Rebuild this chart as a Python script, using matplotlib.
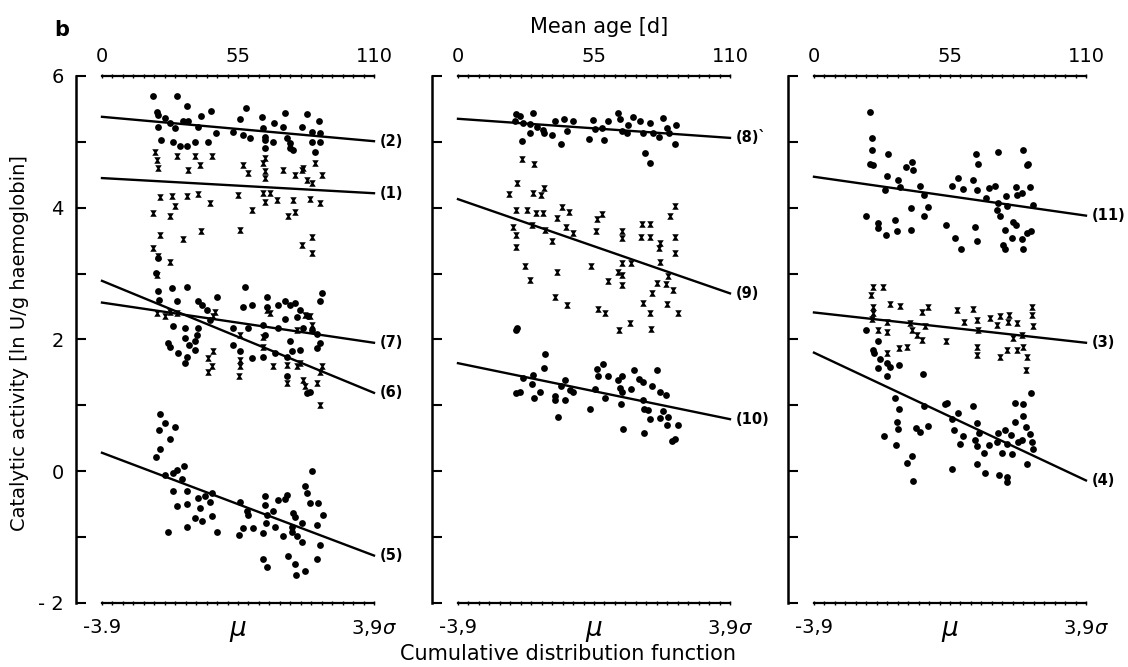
import matplotlib
matplotlib.use("Agg")
import matplotlib.pyplot as plt
import numpy as np

# points: (mean age [d], ln activity)
s2 = [(20.5, 5.70), (30.3, 5.69), (34.4, 5.55), (44.1, 5.47), (58.2, 5.52), (74.0, 5.44), (82.8, 5.42),
      (22.1, 5.46), (22.6, 5.41), (25.5, 5.36), (40.0, 5.39), (55.8, 5.35), (64.6, 5.37),
      (22.7, 5.23), (27.5, 5.29), (29.5, 5.21), (32.8, 5.31), (34.9, 5.31), (38.9, 5.23),
      (46.1, 5.13), (52.8, 5.15), (57.1, 5.10), (59.9, 5.06), (65.2, 5.21), (65.9, 5.08), (65.9, 5.03),
      (69.7, 5.28), (69.2, 5.00), (73.2, 5.23), (74.7, 5.06), (76.0, 4.98), (77.3, 4.88),
      (80.8, 5.23), (84.8, 5.15), (87.8, 5.32), (88.2, 5.13), (88.2, 5.00), (84.8, 5.00),
      (23.7, 5.03), (28.8, 5.00), (31.5, 4.93), (34.2, 4.93), (37.6, 5.00), (42.9, 5.00),
      (65.9, 4.91), (76.0, 4.91), (86.1, 4.85)]
s1 = [(21.4, 4.85), (22.1, 4.72), (22.6, 4.60), (30.2, 4.79), (37.6, 4.79), (39.6, 4.65), (44.4, 4.79),
      (34.9, 4.57), (57.1, 4.65), (59.1, 4.53), (65.2, 4.68), (65.9, 4.76), (73.2, 4.57), (78.1, 4.50),
      (81.4, 4.60), (82.8, 4.42), (84.8, 4.38), (88.8, 4.50), (86.1, 4.68), (65.9, 4.55), (65.9, 4.45),
      (80.8, 4.57), (23.5, 4.17), (28.2, 4.18), (34.2, 4.18), (38.9, 4.21), (43.7, 4.07), (55.0, 4.19),
      (65.2, 4.22), (67.9, 4.22), (65.9, 4.08), (70.6, 4.12), (77.3, 4.12), (84.1, 4.13), (88.2, 4.07),
      (20.7, 3.92), (29.5, 4.02), (27.5, 3.87), (60.5, 3.97), (75.2, 3.87), (78.1, 3.94), (23.5, 3.59),
      (32.8, 3.53), (40.1, 3.64), (55.8, 3.66), (84.8, 3.56), (80.8, 3.43), (84.8, 3.32), (20.7, 3.39),
      (22.6, 3.26), (27.5, 3.18), (22.1, 2.98)]
s7 = [(21.8, 3.01), (22.8, 3.23), (22.8, 2.73), (23.2, 2.60), (34.2, 2.80), (28.2, 2.78), (30.2, 2.58),
      (39.0, 2.58), (40.3, 2.53), (46.4, 2.64), (42.3, 2.45), (57.8, 2.80), (56.9, 2.49), (60.5, 2.53),
      (66.6, 2.65), (66.6, 2.49), (71.3, 2.53), (74.0, 2.58), (76.0, 2.53), (78.1, 2.56), (80.1, 2.45),
      (74.0, 2.31), (78.7, 2.34), (83.4, 2.35), (88.8, 2.71), (88.2, 2.59), (84.8, 2.15), (86.8, 2.09),
      (81.4, 2.17), (53.1, 2.17), (59.2, 2.17), (65.2, 2.22), (65.9, 2.07), (71.3, 2.17), (76.0, 1.97),
      (88.2, 1.94), (86.8, 1.87), (28.8, 2.20), (33.6, 2.17), (33.6, 2.02), (26.8, 1.94), (27.5, 1.89),
      (30.9, 1.79), (34.2, 1.74), (33.6, 1.64), (35.0, 1.92), (37.6, 1.97), (38.3, 2.07), (39.0, 2.17),
      (43.7, 2.30), (37.6, 1.84), (53.1, 1.92), (55.8, 1.82), (60.5, 1.72), (65.2, 1.74), (69.9, 1.79),
      (80.1, 1.84), (74.7, 1.44), (82.8, 1.19), (84.1, 1.21), (74.7, 1.74), (76.7, 1.82)]
s6 = [(25.5, 2.35), (27.5, 2.42), (30.2, 2.40), (45.0, 2.35), (43.0, 1.72), (45.0, 1.82), (44.3, 1.59),
      (43.0, 1.51), (55.8, 1.69), (55.8, 1.59), (55.5, 1.44), (55.8, 2.07), (65.2, 2.04), (65.2, 1.89),
      (69.3, 1.59), (74.7, 1.61), (74.7, 1.34), (78.7, 2.15), (78.7, 1.59), (81.4, 1.39), (82.1, 1.29),
      (86.8, 1.34), (88.2, 1.51), (88.8, 1.59), (88.2, 1.01), (82.1, 2.37), (84.1, 2.35), (84.8, 2.22),
      (66.6, 2.45), (67.9, 2.40), (45.7, 2.42), (22.1, 2.40), (80.1, 1.64)]
s5 = [(23.5, 0.87), (25.5, 0.73), (23.2, 0.63), (29.5, 0.67), (27.5, 0.49), (23.5, 0.34), (21.8, 0.22),
      (25.5, -0.05), (28.8, -0.02), (30.2, 0.02), (33.2, 0.08), (32.2, -0.12), (28.8, -0.30), (34.5, -0.30),
      (30.2, -0.53), (34.2, -0.50), (39.0, -0.41), (39.6, -0.56), (41.6, -0.38), (43.7, -0.46),
      (44.3, -0.33), (37.6, -0.71), (40.3, -0.76), (44.3, -0.68), (34.5, -0.84), (26.8, -0.93),
      (46.4, -0.93), (55.8, -0.47), (58.5, -0.60), (59.2, -0.66), (55.5, -0.97), (57.2, -0.86),
      (60.9, -0.86), (65.2, -0.94), (66.3, -0.79), (65.9, -0.52), (65.9, -0.38), (69.3, -0.61),
      (70.0, -0.84), (71.3, -0.44), (74.0, -0.42), (74.7, -0.36), (73.3, -0.99), (76.7, -0.84),
      (77.4, -0.64), (78.1, -0.69), (78.7, -0.99), (80.8, -1.07), (80.8, -0.79), (82.1, -0.23),
      (82.8, -0.33), (84.8, 0.01), (84.1, -0.48), (87.5, -0.48), (89.2, -0.66), (86.8, -0.81),
      (88.2, -1.12), (86.8, -1.34), (75.4, -1.29), (65.0, -1.33), (66.6, -1.46), (78.1, -1.41),
      (78.5, -1.57), (82.1, -1.52), (76.7, -0.92), (66.6, -0.66)]

s8 = [(23.5, 5.42), (25.1, 5.39), (30.2, 5.44), (23.0, 5.31), (26.4, 5.29), (29.1, 5.27), (29.1, 5.14),
      (25.7, 5.02), (31.8, 5.23), (34.5, 5.18), (34.8, 5.13), (37.9, 5.10), (39.2, 5.31), (43.0, 5.35),
      (46.4, 5.31), (43.9, 5.17), (41.5, 4.96), (53.1, 5.04), (55.4, 5.19), (59.0, 5.03), (60.5, 5.32),
      (64.8, 5.44), (65.5, 5.34), (66.2, 5.16), (68.9, 5.26), (70.9, 5.38), (73.6, 5.31), (74.9, 5.13),
      (77.6, 5.29), (79.0, 5.13), (81.4, 5.07), (83.0, 5.36), (84.4, 5.21), (85.5, 5.13), (88.2, 5.26),
      (87.8, 4.96), (75.6, 4.83), (77.6, 4.68), (58.1, 5.21), (68.2, 5.13), (54.7, 5.33)]
s9 = [(25.7, 4.74), (30.7, 4.67), (24.0, 4.38), (20.8, 4.21), (30.5, 4.22), (33.4, 4.19), (34.8, 4.30),
      (23.5, 3.97), (27.8, 3.97), (31.5, 3.92), (34.5, 3.92), (22.1, 3.70), (23.5, 3.59), (23.5, 3.41),
      (29.8, 3.74), (35.2, 3.66), (37.9, 3.49), (40.2, 3.84), (41.9, 4.01), (44.9, 3.94), (43.7, 3.70),
      (46.4, 3.62), (55.8, 3.64), (56.1, 3.83), (58.1, 3.91), (66.2, 3.65), (66.2, 3.54), (74.3, 3.76),
      (77.6, 3.76), (73.9, 3.56), (77.6, 3.56), (81.9, 3.46), (81.4, 3.39), (87.8, 4.03), (85.7, 3.87),
      (87.8, 3.55), (87.8, 3.31), (27.1, 3.11), (29.1, 2.91), (39.9, 3.03), (53.6, 3.11), (64.8, 3.03),
      (66.2, 3.16), (69.8, 3.16), (66.2, 2.98), (60.8, 2.89), (66.2, 2.83), (81.7, 3.17), (85.1, 2.96),
      (80.6, 2.86), (84.1, 2.84), (86.8, 2.75), (78.3, 2.70), (39.2, 2.65), (44.2, 2.53), (56.8, 2.47),
      (59.4, 2.40), (75.0, 2.55), (77.6, 2.40), (84.6, 2.54), (89.1, 2.40), (65.2, 2.15), (69.6, 2.25),
      (77.9, 2.16)]
s10 = [(23.5, 2.15), (24.0, 2.18), (35.2, 1.78), (34.8, 1.57), (26.2, 1.42), (30.5, 1.46), (29.8, 1.33),
       (23.5, 1.18), (25.1, 1.21), (33.2, 1.21), (30.7, 1.11), (39.2, 1.14), (39.2, 1.08), (41.5, 1.29),
       (43.3, 1.39), (43.3, 1.08), (45.3, 1.24), (46.6, 1.21), (40.3, 0.82), (53.4, 0.95), (55.4, 1.25),
       (56.1, 1.55), (58.5, 1.63), (56.8, 1.44), (59.4, 1.11), (60.8, 1.44), (64.8, 1.39), (66.2, 1.44),
       (65.5, 1.26), (66.2, 1.21), (65.9, 1.02), (66.9, 0.64), (69.8, 1.25), (71.2, 1.54), (73.3, 1.40),
       (75.0, 1.36), (74.7, 1.08), (75.2, 0.94), (77.0, 0.93), (78.3, 1.29), (80.3, 1.53), (81.7, 1.21),
       (84.1, 1.16), (82.8, 0.92), (81.7, 0.81), (84.8, 0.82), (84.7, 0.70), (77.6, 0.79), (89.1, 0.70),
       (75.2, 0.58), (86.4, 0.46), (87.8, 0.49)]

s11 = [(22.6, 5.45), (23.5, 5.06), (23.3, 4.87), (22.6, 4.67), (23.7, 4.65), (30.1, 4.82), (37.2, 4.62),
       (39.5, 4.70), (40.2, 4.58), (29.4, 4.48), (34.1, 4.42), (34.8, 4.31), (28.7, 4.27), (42.9, 4.33),
       (44.6, 4.19), (39.1, 3.99), (46.2, 4.01), (44.5, 3.88), (21.0, 3.87), (26.0, 3.77), (26.0, 3.69),
       (29.1, 3.59), (32.8, 3.82), (33.4, 3.64), (39.1, 3.66), (53.2, 3.74), (57.0, 3.54), (59.3, 3.38),
       (55.7, 4.33), (58.4, 4.45), (60.4, 4.28), (64.4, 4.42), (65.8, 4.27), (65.5, 4.82), (66.5, 4.67),
       (70.6, 4.30), (73.3, 4.33), (74.5, 4.84), (69.4, 4.14), (65.1, 3.71), (65.8, 3.50), (74.5, 4.07),
       (73.9, 3.97), (75.2, 3.87), (77.9, 4.02), (77.6, 4.18), (81.7, 4.32), (82.0, 4.19), (84.0, 4.22),
       (87.3, 4.31), (88.7, 4.04), (84.4, 4.88), (86.0, 4.65), (86.7, 4.67), (80.6, 3.79), (81.7, 3.74),
       (77.2, 3.66), (79.9, 3.54), (84.0, 3.52), (86.3, 3.61), (87.6, 3.64), (76.6, 3.44), (84.4, 3.37),
       (77.2, 3.38)]
s3 = [(23.7, 2.80), (27.8, 2.79), (22.9, 2.68), (23.7, 2.50), (30.7, 2.54), (34.8, 2.51), (23.7, 2.40),
      (23.3, 2.31), (26.0, 2.15), (29.7, 2.12), (29.7, 2.26), (38.8, 2.25), (39.5, 2.15), (43.5, 2.42),
      (46.2, 2.49), (44.9, 2.20), (41.5, 2.07), (43.5, 1.99), (53.4, 1.98), (57.7, 2.44), (60.7, 2.27),
      (64.4, 2.47), (65.8, 2.30), (66.5, 2.15), (71.2, 2.32), (75.2, 2.35), (73.9, 2.22), (79.0, 2.37),
      (78.6, 2.27), (82.0, 2.25), (80.6, 2.02), (84.0, 2.07), (88.0, 2.50), (88.0, 2.37), (88.7, 2.20),
      (65.8, 1.89), (65.8, 1.77), (75.2, 1.73), (77.9, 1.84), (82.0, 1.84), (84.4, 1.89), (86.0, 1.74),
      (85.7, 1.53), (34.5, 1.87), (37.5, 1.89), (29.4, 1.80)]
s4 = [(21.0, 2.14), (23.7, 1.84), (24.3, 1.80), (26.0, 1.97), (26.7, 1.71), (26.0, 1.56), (29.7, 1.65),
      (30.7, 1.58), (34.5, 1.61), (29.7, 1.44), (32.8, 1.11), (34.5, 0.94), (33.4, 0.75), (34.1, 0.64),
      (28.3, 0.54), (33.2, 0.40), (37.5, 0.13), (39.5, 0.23), (39.9, -0.15), (44.2, 1.48), (44.5, 0.99),
      (41.2, 0.65), (42.9, 0.60), (46.2, 0.69), (53.0, 1.02), (55.7, 0.80), (56.6, 0.63), (58.4, 0.89),
      (59.0, 0.42), (60.4, 0.53), (55.7, 0.03), (64.4, 0.99), (65.8, 0.73), (66.9, 0.58), (65.1, 0.48),
      (65.8, 0.38), (68.7, 0.27), (70.9, 0.40), (65.8, 0.11), (69.2, -0.03), (74.5, 0.58), (73.9, 0.44),
      (75.9, 0.28), (77.2, 0.63), (77.9, 0.41), (79.5, 0.55), (80.2, 0.26), (81.3, 0.74), (81.3, 1.03),
      (84.4, 1.02), (84.4, 0.84), (82.6, 0.44), (84.0, 0.48), (85.7, 0.67), (87.3, 0.57), (88.0, 0.44),
      (88.7, 0.33), (86.0, 0.11), (87.6, 1.19), (74.9, -0.06), (78.2, -0.17), (77.9, -0.09), (53.6, 1.03)]

# regression lines: label, value at age 0, value at age 110
fits_left = [("(2)", 5.38, 5.01), ("(1)", 4.45, 4.22), ("(7)", 2.56, 1.95), ("(6)", 2.89, 1.19), ("(5)", 0.28, -1.28)]
fits_mid = [("(8)`", 5.35, 5.06), ("(9)", 4.13, 2.70), ("(10)", 1.64, 0.79)]
fits_right = [("(11)", 4.47, 3.88), ("(3)", 2.41, 1.95), ("(4)", 1.80, -0.14)]

dot_series = [[s2, s7, s5], [s8, s10], [s11, s4]]
cross_series = [[s1, s6], [s9], [s3]]
fits = [fits_left, fits_mid, fits_right]

hourglass = [(-1, 1), (1, 1), (0.35, 0), (1, -1), (-1, -1), (-0.35, 0), (-1, 1)]

plt.rcParams['font.family'] = ['DejaVu Sans']
plt.rcParams['mathtext.fontset'] = 'dejavusans'
fig = plt.figure(figsize=(11.28, 6.67), dpi=100)
lefts = [0.0674, 0.3830, 0.6986]
minor = np.linspace(0, 110, 27)

for k in range(3):
    ax = fig.add_axes([lefts[k], 0.0960, 0.3036, 0.7901])
    ax.set_xlim(-10.5, 128)
    ax.set_ylim(-2, 6)

    for pts in dot_series[k]:
        a = np.array(pts)
        ax.scatter(a[:, 0], a[:, 1], s=24, color='black', linewidths=0, clip_on=False)
    for pts in cross_series[k]:
        a = np.array(pts)
        ax.scatter(a[:, 0], a[:, 1], s=22, marker=hourglass, color='black', linewidths=0, clip_on=False)

    for name, y0, y1 in fits[k]:
        ax.plot([0, 110], [y0, y1], color='black', lw=1.7)
        ax.text(112.3, y1, name, ha='left', va='center', fontsize=10.5, fontweight='bold')

    for sp in ['top', 'right']:
        ax.spines[sp].set_visible(False)
    ax.spines['left'].set_bounds(-2, 6)
    ax.spines['bottom'].set_bounds(0, 110)
    ax.spines['left'].set_linewidth(1.8)
    ax.spines['bottom'].set_linewidth(1.6)

    ax.set_yticks(range(-2, 7))
    if k == 0:
        ax.set_yticklabels(['- 2', '', '0', '', '2', '', '4', '', '6'])
    else:
        ax.set_yticklabels([])
    ax.tick_params(axis='y', direction='in', length=7, width=1.5, labelsize=14, pad=9)

    ax.set_xticks([0, 55, 110])
    ax.set_xticklabels(['-3.9' if k == 0 else '-3,9', r'$\mu$', r'3,9$\sigma$'])
    ax.set_xticks(minor, minor=True)
    ax.tick_params(axis='x', which='both', direction='inout', length=3, width=1, labelsize=14, pad=9)
    ax.get_xticklabels()[1].set_fontsize(19)

    top = ax.twiny()
    top.set_xlim(ax.get_xlim())
    for sp in ['left', 'right', 'bottom']:
        top.spines[sp].set_visible(False)
    top.spines['top'].set_bounds(0, 110)
    top.spines['top'].set_linewidth(1.6)
    top.set_xticks([0, 55, 110])
    top.set_xticklabels(['0', '55', '110'])
    top.set_xticks(minor, minor=True)
    top.tick_params(axis='x', which='both', direction='inout', length=3, width=1, labelsize=14, pad=6)

fig.text(0.055, 0.955, 'b', fontsize=15, fontweight='bold', ha='center', va='center')
fig.text(0.531, 0.9595, 'Mean age [d]', fontsize=15, ha='center', va='center')
fig.text(0.5035, 0.0195, 'Cumulative distribution function', fontsize=15, ha='center', va='center')
fig.text(0.0177, 0.486, 'Catalytic activity [ln U/g haemoglobin]', fontsize=14,
         rotation=90, ha='center', va='center')

fig.savefig('out.png', dpi=100)
